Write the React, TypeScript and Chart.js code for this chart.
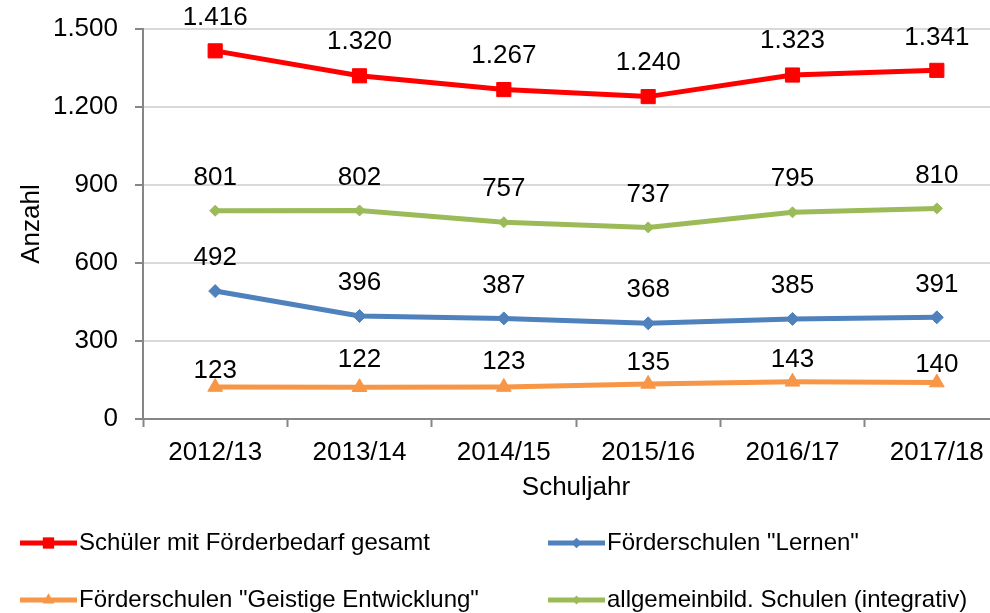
import React, { useEffect, useRef } from "react";
import { Chart, registerables } from "chart.js";

Chart.register(...registerables);

const categories = ["2012/13", "2013/14", "2014/15", "2015/16", "2016/17", "2017/18"];
const gesamt = [1416, 1320, 1267, 1240, 1323, 1341];
const integrativ = [801, 802, 757, 737, 795, 810];
const lernen = [492, 396, 387, 368, 385, 391];
const geistig = [123, 122, 123, 135, 143, 140];
const yTicks = [0, 300, 600, 900, 1200, 1500];

const FONT = "'Liberation Sans', Arial, sans-serif";

const fmt = (v: number) => String(Math.round(v)).replace(/\B(?=(\d{3})+(?!\d))/g, ".");

// label offsets above points (styling only)
const labelOffsets: Record<number, number[]> = {
  0: [33, 34, 34, 34, 34, 33],
  1: [33, 33, 33, 33, 33, 33],
  2: [33, 33, 33, 33, 33, 33],
  3: [16, 27, 25, 21, 22, 18],
};

function marker(ctx: CanvasRenderingContext2D, style: string, r: number, x: number, y: number) {
  ctx.beginPath();
  if (style === "rect") {
    const s = Math.SQRT1_2 * r;
    ctx.rect(x - s, y - s, 2 * s, 2 * s);
  } else if (style === "rectRot") {
    ctx.moveTo(x, y - r);
    ctx.lineTo(x + r, y);
    ctx.lineTo(x, y + r);
    ctx.lineTo(x - r, y);
    ctx.closePath();
  } else {
    const w = (r * Math.sqrt(3)) / 2;
    ctx.moveTo(x, y - r);
    ctx.lineTo(x + w, y + r / 2);
    ctx.lineTo(x - w, y + r / 2);
    ctx.closePath();
  }
  ctx.fill();
}

const dataLabelPlugin = {
  id: "dataLabels",
  afterDatasetsDraw(chart: any) {
    const ctx = chart.ctx;
    ctx.save();
    ctx.font = `26px ${FONT}`;
    ctx.fillStyle = "#000";
    ctx.textAlign = "center";
    ctx.textBaseline = "middle";
    chart.data.datasets.forEach((ds: any, i: number) => {
      const meta = chart.getDatasetMeta(i);
      meta.data.forEach((pt: any, j: number) => {
        const off = labelOffsets[i][j];
        ctx.fillText(fmt(ds.data[j]), pt.x, pt.y - off);
      });
    });
    ctx.restore();
  },
};

const legendPlugin = {
  id: "customLegend",
  afterDraw(chart: any) {
    const ctx = chart.ctx;
    const items = [
      { ds: 0, x: 20, y: 543 },
      { ds: 2, x: 548, y: 543 },
      { ds: 3, x: 20, y: 600 },
      { ds: 1, x: 548, y: 600 },
    ];
    ctx.save();
    items.forEach((it) => {
      const ds = chart.data.datasets[it.ds];
      ctx.strokeStyle = ds.borderColor;
      ctx.lineWidth = 5;
      ctx.lineCap = "butt";
      ctx.beginPath();
      ctx.moveTo(it.x, it.y);
      ctx.lineTo(it.x + 57, it.y);
      ctx.stroke();
      ctx.fillStyle = ds.borderColor;
      marker(ctx, ds.pointStyle, ds.pointRadius * 0.8, it.x + 28.5, it.y);
      ctx.font = `24px ${FONT}`;
      ctx.fillStyle = "#000";
      ctx.textAlign = "left";
      ctx.textBaseline = "middle";
      ctx.fillText(ds.label, it.x + 59, it.y);
    });
    ctx.restore();
  },
};

export default function App() {
  const ref = useRef<HTMLCanvasElement | null>(null);
  useEffect(() => {
    if (!ref.current) return;
    const mk = (label: string, data: number[], color: string, style: string, r: number) => ({
      label,
      data,
      borderColor: color,
      backgroundColor: color,
      pointBackgroundColor: color,
      pointBorderColor: color,
      pointStyle: style,
      pointRadius: r,
      pointBorderWidth: 1,
      borderWidth: 5,
      tension: 0,
    });
    const chart = new Chart(ref.current, {
      type: "line",
      data: {
        labels: categories,
        datasets: [
          mk("Schüler mit Förderbedarf gesamt", gesamt, "#FF0000", "rect", 10),
          mk("allgemeinbild. Schulen (integrativ)", integrativ, "#9BBB59", "rectRot", 5.5),
          mk('Förderschulen "Lernen"', lernen, "#4F81BD", "rectRot", 6.5),
          mk('Förderschulen "Geistige Entwicklung"', geistig, "#F79646", "triangle", 8.5),
        ],
      },
      options: {
        responsive: false,
        animation: false,
        layout: { padding: { top: 29, left: 0, right: 0, bottom: 110 } },
        plugins: { legend: { display: false }, tooltip: { enabled: false } },
        scales: {
          x: {
            type: "category",
            offset: true,
            grid: {
              offset: true,
              drawOnChartArea: false,
              drawTicks: true,
              tickLength: 8,
              tickColor: "#868686",
              tickWidth: 2,
            },
            border: { color: "#868686", width: 2 },
            ticks: { color: "#000", font: { family: FONT, size: 26 }, padding: 10, maxRotation: 0 },
            title: { display: true, text: "Schuljahr", color: "#000", font: { family: FONT, size: 26 }, padding: 0 },
            afterFit(scale: any) {
              scale.height = 84;
              scale.paddingLeft = 0;
              scale.paddingRight = 0;
            },
          },
          y: {
            min: 0,
            max: 1500,
            afterBuildTicks(scale: any) {
              scale.ticks = yTicks.map((v) => ({ value: v }));
            },
            grid: { color: "#D9D9D9", lineWidth: 2, tickLength: 8, tickColor: "#868686", tickWidth: 2 },
            border: { color: "#868686", width: 2 },
            ticks: {
              color: "#000",
              font: { family: FONT, size: 26 },
              padding: 17,
              callback: (v: any) => fmt(Number(v)),
            },
            title: { display: true, text: "Anzahl", color: "#000", font: { family: FONT, size: 26 }, padding: { top: 16, bottom: 0 } },
            afterFit(scale: any) {
              scale.width = 143;
              scale.paddingTop = 0;
              scale.paddingBottom = 0;
            },
          },
        },
      },
      plugins: [dataLabelPlugin, legendPlugin],
    });
    return () => chart.destroy();
  }, []);
  return (
    <div style={{ position: "fixed", left: 0, top: 0, width: 990, height: 613, overflow: "hidden", background: "#fff" }}>
      <canvas ref={ref} width={1020} height={613} style={{ width: 1020, height: 613, display: "block" }} />
    </div>
  );
}
